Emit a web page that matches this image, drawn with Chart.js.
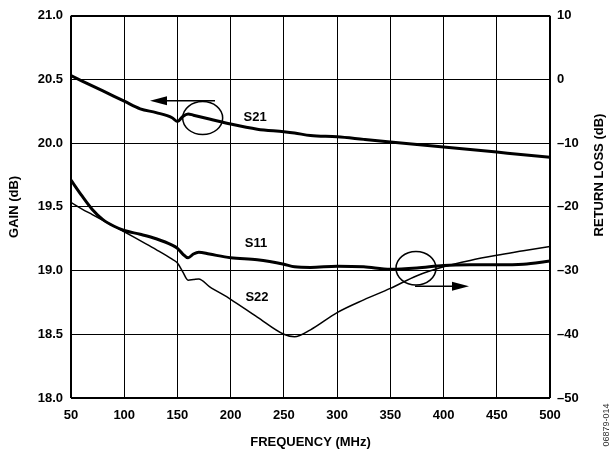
<!DOCTYPE html>
<html>
<head>
<meta charset="utf-8">
<script src="https://cdn.jsdelivr.net/npm/chart.js@4.4.1/dist/chart.umd.min.js"></script>
<style>
    body { margin: 0; background: #fff; }
</style>
</head>
<body>
<canvas id="grafico" width="613" height="454"></canvas>
<script>
// frecuencias de muestreo (MHz)
const freq = [50, 60, 70, 80, 90, 100, 115, 130, 145, 150, 155, 160, 165, 170, 180,
    200, 225, 250, 260, 275, 300, 325, 350, 375, 400, 425, 450, 475, 500];

// S21 -> ganancia (dB), eje izquierdo
const gainS21 = [20.53, 20.49, 20.45, 20.41, 20.37, 20.33, 20.27, 20.24, 20.20, 20.17, 20.21, 20.23, 20.22, 20.21, 20.19,
    20.15, 20.11, 20.09, 20.08, 20.06, 20.05, 20.03, 20.01, 19.99, 19.97, 19.95, 19.93, 19.91, 19.89];

// S11 y S22 -> return loss (dB), eje derecho
const rlS11 = [-15.8, -18.2, -20.4, -22.0, -23.0, -23.7, -24.3, -25.0, -26.0, -26.5, -27.4, -28.0, -27.4, -27.1, -27.4,
    -28.0, -28.3, -29.0, -29.4, -29.5, -29.3, -29.4, -29.8, -29.6, -29.2, -29.1, -29.1, -29.0, -28.5];
const rlS22 = [-19.3, -20.3, -21.2, -22.1, -23.0, -23.9, -25.3, -26.7, -28.2, -28.8, -30.2, -31.5, -31.4, -31.3, -32.5,
    -34.5, -37.3, -40.0, -40.4, -39.3, -36.6, -34.6, -32.8, -30.8, -29.4, -28.4, -27.6, -26.9, -26.2];

// rangos de los ejes
const rangoFreq = [50, 500, 50];
const rangoGain = [18, 21, 0.5];
const rangoRL = [-50, 10, 10];

const fuente = 'Liberation Sans, Arial, Helvetica, sans-serif';

function puntos(serie) {
    return freq.map((f, i) => ({ x: f, y: serie[i] }));
}

function anchoGrilla(min, max) {
    return (c) => (c.tick && (c.tick.value === min || c.tick.value === max)) ? 2 : 1;
}

function flecha(ctx, x1, x2, y) {
    const dir = Math.sign(x2 - x1);
    const largo = 17;
    ctx.beginPath();
    ctx.moveTo(x1, y);
    ctx.lineTo(x2 - dir * largo, y);
    ctx.lineWidth = 1.5;
    ctx.stroke();
    ctx.beginPath();
    ctx.moveTo(x2, y);
    ctx.lineTo(x2 - dir * largo, y - 4.5);
    ctx.lineTo(x2 - dir * largo, y + 4.5);
    ctx.closePath();
    ctx.fill();
}

// circulos, flechas y nombres de las curvas
const notas = {
    id: 'notas',
    afterDatasetsDraw(chart) {
        const { ctx, scales: { x, y, y2 } } = chart;
        ctx.save();
        ctx.strokeStyle = '#000';
        ctx.fillStyle = '#000';

        // circulo de S21 con flecha hacia el eje de ganancia
        ctx.beginPath();
        ctx.ellipse(x.getPixelForValue(173.7), y.getPixelForValue(20.197), 20, 16.5, 0, 0, Math.PI * 2);
        ctx.lineWidth = 1.5;
        ctx.stroke();
        flecha(ctx, x.getPixelForValue(185.3), x.getPixelForValue(124.2), y.getPixelForValue(20.334));

        // circulo de S11/S22 con flecha hacia el eje de return loss
        ctx.beginPath();
        ctx.ellipse(x.getPixelForValue(374.1), y2.getPixelForValue(-29.63), 20, 16.7, 0, 0, Math.PI * 2);
        ctx.lineWidth = 1.5;
        ctx.stroke();
        flecha(ctx, x.getPixelForValue(373.2), x.getPixelForValue(423.9), y2.getPixelForValue(-32.45));

        ctx.font = 'bold 13px ' + fuente;
        ctx.textAlign = 'center';
        ctx.textBaseline = 'middle';
        ctx.fillText('S21', x.getPixelForValue(222.9), y.getPixelForValue(20.2));
        ctx.fillText('S11', x.getPixelForValue(223.8), y2.getPixelForValue(-25.7));
        ctx.fillText('S22', x.getPixelForValue(224.7), y2.getPixelForValue(-34.2));

        // titulo del eje derecho (se lee de abajo hacia arriba)
        ctx.save();
        ctx.translate(599, 175);
        ctx.rotate(-Math.PI / 2);
        ctx.fillText('RETURN LOSS (dB)', 0, 0);
        ctx.restore();

        // codigo de la figura
        ctx.save();
        ctx.translate(607, 425);
        ctx.rotate(-Math.PI / 2);
        ctx.font = '9px ' + fuente;
        ctx.fillStyle = '#333';
        ctx.fillText('06879-014', 0, 0);
        ctx.restore();

        ctx.restore();
    }
};

const grafico = new Chart(document.getElementById('grafico').getContext('2d'), {
    type: 'line',
    data: {
        datasets: [
            { label: 'S21', data: puntos(gainS21), yAxisID: 'y', borderColor: '#000', borderWidth: 3 },
            { label: 'S11', data: puntos(rlS11), yAxisID: 'y2', borderColor: '#000', borderWidth: 3 },
            { label: 'S22', data: puntos(rlS22), yAxisID: 'y2', borderColor: '#000', borderWidth: 1.5 }
        ]
    },
    options: {
        responsive: false,
        animation: false,
        layout: { padding: { top: 15, left: 0, right: 0, bottom: 0 } },
        elements: {
            point: { radius: 0 },
            line: { cubicInterpolationMode: 'monotone', fill: false }
        },
        plugins: { legend: { display: false }, tooltip: { enabled: false } },
        scales: {
            x: {
                type: 'linear',
                min: rangoFreq[0], max: rangoFreq[1],
                ticks: { stepSize: rangoFreq[2], color: '#000', padding: 10, font: { family: fuente, size: 13, weight: 'bold' } },
                grid: { color: '#000', lineWidth: anchoGrilla(rangoFreq[0], rangoFreq[1]), drawTicks: false },
                border: { display: false },
                title: { display: true, text: 'FREQUENCY (MHz)', color: '#000', padding: { top: 0, bottom: 4 },
                    font: { family: fuente, size: 13, weight: 'bold' } },
                afterFit: (s) => { s.height = 56; }
            },
            y: {
                position: 'left',
                min: rangoGain[0], max: rangoGain[1],
                ticks: { stepSize: rangoGain[2], color: '#000', padding: 8, callback: (v) => v.toFixed(1),
                    font: { family: fuente, size: 13, weight: 'bold' } },
                grid: { color: '#000', lineWidth: anchoGrilla(rangoGain[0], rangoGain[1]), drawTicks: false },
                border: { display: false },
                title: { display: true, text: 'GAIN (dB)', color: '#000', padding: { top: 7, bottom: 0 },
                    font: { family: fuente, size: 13, weight: 'bold' } },
                afterFit: (s) => { s.width = 71; }
            },
            y2: {
                position: 'right',
                min: rangoRL[0], max: rangoRL[1],
                ticks: { stepSize: rangoRL[2], color: '#000', padding: 7,
                    callback: (v) => v < 0 ? '\u2013' + Math.abs(v) : String(v),
                    font: { family: fuente, size: 13, weight: 'bold' } },
                grid: { drawOnChartArea: false, drawTicks: false },
                border: { display: false },
                afterFit: (s) => { s.width = 63; }
            }
        }
    },
    plugins: [notas]
});
</script>
</body>
</html>
